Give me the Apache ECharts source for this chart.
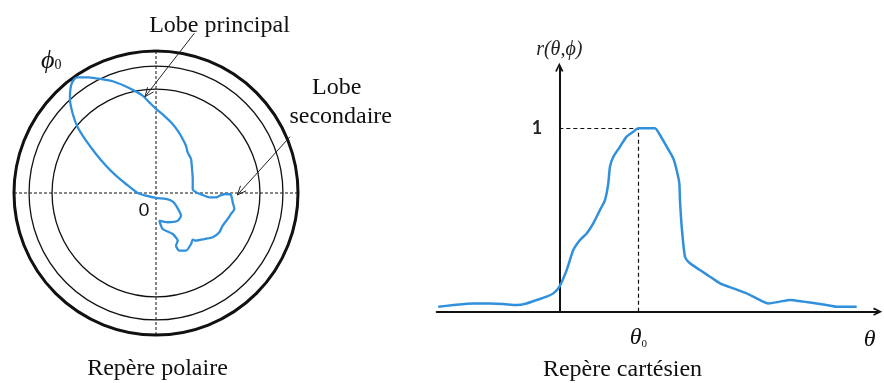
<!DOCTYPE html>
<html>
<head>
<meta charset="utf-8">
<script src="https://cdn.jsdelivr.net/npm/echarts@6/dist/echarts.min.js"></script>
<style>
  html, body { margin: 0; padding: 0; background: #fff; }
  #chart { width: 884px; height: 383px; }
</style>
</head>
<body>
<div id="chart"></div>
<script>
// Radiation pattern r(theta, phi) in polar form: normalized radius and angle (deg)
const lobeRadius = [0.984, 0.940, 0.891, 0.844, 0.788, 0.737, 0.692, 0.640, 0.592, 0.547,
  0.509, 0.465, 0.424, 0.394, 0.363, 0.344, 0.305, 0.277, 0.260, 0.282,
  0.329, 0.377, 0.424, 0.458, 0.493, 0.528, 0.544, 0.563, 0.548, 0.537,
  0.523, 0.525, 0.507, 0.470, 0.438, 0.418, 0.436, 0.458, 0.438, 0.397,
  0.369, 0.312, 0.258, 0.196, 0.222, 0.248, 0.238, 0.187, 0.133, 0.082,
  0.035, 0.073, 0.129, 0.221, 0.307, 0.401, 0.504, 0.615, 0.720, 0.808,
  0.897, 0.964, 0.988, 0.984];
const lobeAngle = [124.1, 120.0, 115.8, 111.2, 106.5, 102.0, 97.8, 94.2, 90.0, 83.9,
  78.0, 70.8, 63.7, 57.6, 52.1, 44.2, 33.7, 20.9, 6.2, 1.0,
  357.5, 355.4, 355.9, 358.2, 359.2, 358.5, 353.1, 348.5, 344.4, 340.1,
  333.9, 328.2, 322.0, 316.4, 310.0, 308.2, 304.5, 297.5, 292.0, 290.8,
  294.5, 292.2, 280.5, 276.8, 291.8, 308.1, 317.8, 324.8, 332.5, 329.0,
  270.0, 195.0, 180.0, 163.3, 156.6, 151.4, 147.0, 143.2, 140.0, 136.5,
  132.5, 128.4, 125.6, 124.1];

// Reference circles of the polar frame (relative to the outer circle)
const ringRadii = [1, 0.894, 0.732];

// Same pattern as a cut r(theta) in cartesian form (theta in units of theta0)
const cartTheta = [-1.532, -1.342, -1.089, -0.878, -0.709, -0.540, -0.414, -0.287, -0.160, -0.076,
  0.000, 0.093, 0.177, 0.262, 0.346, 0.430, 0.515, 0.578, 0.620, 0.641,
  0.684, 0.768, 0.852, 0.937, 1.000, 1.105, 1.211, 1.274, 1.359, 1.443,
  1.485, 1.519, 1.527, 1.549, 1.591, 1.654, 1.781, 1.907, 2.034, 2.203,
  2.371, 2.498, 2.646, 2.793, 2.920, 3.089, 3.257, 3.384, 3.511, 3.764];
const cartR = [0.027, 0.036, 0.045, 0.045, 0.042, 0.036, 0.045, 0.064, 0.082, 0.100,
  0.136, 0.227, 0.336, 0.391, 0.427, 0.482, 0.555, 0.609, 0.700, 0.791,
  0.845, 0.900, 0.955, 0.982, 1.000, 1.000, 1.000, 0.964, 0.900, 0.836,
  0.773, 0.700, 0.609, 0.464, 0.300, 0.264, 0.227, 0.191, 0.155, 0.127,
  0.100, 0.073, 0.045, 0.055, 0.064, 0.055, 0.045, 0.036, 0.027, 0.027];

// Main lobe maximum
const peakTheta = 1;
const peakR = 1;

const BLUE = '#3190dc';
const INK = '#111';
const SERIF = '"Liberation Serif", "Times New Roman", serif';
const SANS = 'Lato, "Open Sans", sans-serif';

const polarCenter = [156, 193];
const outerPx = 142;

const chart = echarts.init(document.getElementById('chart'), null, { renderer: 'canvas' });

// Open chevron used as arrow head on the cartesian axes
const chevron = 'path://M0,10 L5,0 L10,10 L8,10.8 L5,4.2 L2,10.8 Z';

// Annotation arrow: a thin line ending in an open arrow head
function arrow(x1, y1, x2, y2) {
  const dx = x2 - x1, dy = y2 - y1;
  const len = Math.hypot(dx, dy);
  const ux = dx / len, uy = dy / len;
  const h = 9, w = 0.42;
  const bx = x2 - ux * h, by = y2 - uy * h;
  const px = -uy, py = ux;
  return [
    { type: 'line', shape: { x1, y1, x2, y2 }, style: { stroke: '#222', lineWidth: 1 }, z: 10 },
    { type: 'polyline', shape: { points: [[bx + px * h * w, by + py * h * w], [x2, y2], [bx - px * h * w, by - py * h * w]] },
      style: { stroke: '#222', lineWidth: 1, fill: null }, z: 10 }
  ];
}

function text(str, x, y, size, opts) {
  return {
    type: 'text', x, y, z: 10,
    style: Object.assign({ text: str, font: 'normal ' + size + 'px ' + SERIF, fill: INK, align: 'center', verticalAlign: 'middle' }, opts || {})
  };
}

const polars = ringRadii.map(f => ({ center: polarCenter, radius: outerPx * f }));
const angleAxes = ringRadii.map((f, i) => ({
  polarIndex: i, type: 'value', min: 0, max: 360, interval: 90, startAngle: 0, clockwise: false,
  axisLine: { show: true, lineStyle: { color: INK, width: i === 0 ? 3 : 1.3 } },
  axisTick: { show: false }, axisLabel: { show: false },
  splitLine: { show: i === 0, lineStyle: { color: INK, width: 1, type: [3, 2] } }
}));
const radiusAxes = ringRadii.map((f, i) => ({ polarIndex: i, type: 'value', min: 0, max: 1 / f, show: false }));

const option = {
  animation: false,
  backgroundColor: '#fff',
  polar: polars,
  angleAxis: angleAxes,
  radiusAxis: radiusAxes,
  grid: { left: 436.7, right: 6.3, top: 67.3, bottom: 71.3, containLabel: false },
  xAxis: {
    type: 'value', min: -1.552, max: 4.03,
    axisLine: { onZero: true, symbol: ['none', chevron], symbolSize: [11, 9], lineStyle: { color: INK, width: 2 } },
    axisTick: { show: false },
    splitLine: { show: false },
    axisLabel: {
      customValues: [peakTheta], margin: 14,
      formatter: () => '{t|θ}{s|0}',
      rich: {
        t: { fontFamily: SERIF, fontStyle: 'italic', fontSize: 24, color: INK },
        s: { fontFamily: SERIF, fontSize: 11, color: INK, padding: [12, 0, 0, 0] }
      }
    },
    name: 'θ', nameLocation: 'end', nameGap: -14,
    nameTextStyle: { fontFamily: SERIF, fontStyle: 'italic', fontSize: 24, color: INK, align: 'left', verticalAlign: 'top', padding: [16, 0, 0, 0] }
  },
  yAxis: {
    type: 'value', min: 0, max: 1.333,
    axisLine: { onZero: true, symbol: ['none', chevron], symbolSize: [11, 9], lineStyle: { color: INK, width: 2 } },
    axisTick: { show: false },
    splitLine: { show: false },
    axisLabel: { show: false },
    name: 'r(θ,ϕ)', nameLocation: 'end', nameGap: 8,
    nameTextStyle: { fontFamily: SERIF, fontStyle: 'italic', fontSize: 20, color: '#222' }
  },
  series: [
    {
      type: 'line', coordinateSystem: 'polar', polarIndex: 0,
      data: lobeRadius.map((r, i) => [r, lobeAngle[i]]),
      showSymbol: false, symbol: 'none', smooth: 0.2,
      lineStyle: { color: BLUE, width: 2.3 }, z: 5, silent: true
    },
    {
      type: 'line',
      data: cartTheta.map((t, i) => [t, cartR[i]]),
      showSymbol: false, symbol: 'none', smooth: 0.2,
      lineStyle: { color: BLUE, width: 2.5 }, z: 5, silent: true,
      markLine: {
        silent: true, symbol: ['none', 'none'],
        lineStyle: { color: INK, width: 1.2, type: [4, 3] },
        data: [
          [{ coord: [0, peakR], label: { show: true, position: 'start', distance: 17, formatter: String(peakR),
              fontFamily: SANS, fontWeight: 'bold', fontSize: 18, color: '#222' } },
           { coord: [peakTheta, peakR] }],
          [{ coord: [peakTheta, 0], label: { show: false } }, { coord: [peakTheta, peakR] }]
        ]
      }
    }
  ],
  graphic: [
    text('Lobe principal', 219.5, 26, 24),
    ...arrow(194.3, 33.3, 145, 96.7),
    text('Lobe', 336.7, 88, 24),
    text('secondaire', 340.7, 117, 24),
    ...arrow(290, 136.7, 237.3, 195),
    {
      type: 'text', x: 41, y: 61, z: 10,
      style: {
        text: '{p|ϕ}{s|0}', verticalAlign: 'middle', align: 'left',
        rich: {
          p: { fontFamily: SERIF, fontStyle: 'italic', fontSize: 26, fill: INK },
          s: { fontFamily: SERIF, fontSize: 14, fill: INK, padding: [8, 0, 0, 0] }
        }
      }
    },
    text('0', 144, 210, 18, { font: 'normal 18px ' + SANS }),
    text('Repère polaire', 157.5, 369, 24),
    text('Repère cartésien', 622.5, 370, 24)
  ]
};

chart.setOption(option);
</script>
</body>
</html>
